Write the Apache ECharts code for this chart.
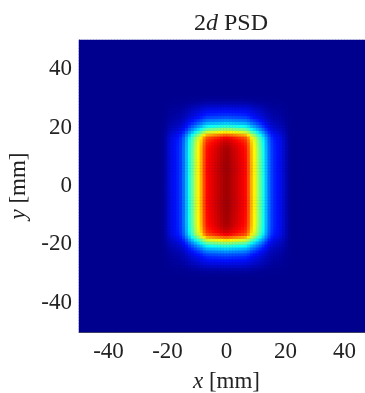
<!DOCTYPE html>
<html>
<head>
<meta charset="utf-8">
<script src="https://cdn.jsdelivr.net/npm/echarts@6/dist/echarts.min.js"></script>
<style>html,body{margin:0;padding:0;background:#fff}#c{width:365px;height:393px}</style>
</head>
<body>
<div id="c"></div>
<script>
// distance of cell centre from beam centre (mm) and read-off normalised PSD profile
const xDist = [0.5,1.5,2.5,3.5,4.5,5.5,6.5,7.5,8.5,9.5,10.5,11.5,12.5,13.5,14.5,15.5,16.5,17.5,18.5,19.5,20.5,21.5];
const xProfile = [0.965,0.95,0.935,0.92,0.905,0.89,0.87,0.8,0.7,0.63,0.55,0.47,0.39,0.3,0.22,0.17,0.14,0.12,0.1,0.07,0.035,0.01];
const yDist = [0.5,1.5,2.5,3.5,4.5,5.5,6.5,7.5,8.5,9.5,10.5,11.5,12.5,13.5,14.5,15.5,16.5,17.5,18.5,19.5,20.5,21.5,22.5,23.5,24.5,25.5,26.5,27.5,28.5,29.5,30.5];
const yProfile = [1.0,1.0,1.0,1.0,1.0,1.0,0.999,0.998,0.997,0.996,0.995,0.993,0.99,0.983,0.97,0.95,0.91,0.8,0.66,0.53,0.42,0.33,0.26,0.2,0.16,0.13,0.1,0.065,0.035,0.015,0.005];
const xTicks = [-40,-20,0,20,40];
const yTicks = [-40,-20,0,20,40];
const cellCentres = [];
for (let k = 0; k < 100; k++) cellCentres.push(-49.5 + k);
const jet = ['#00008F','#0010FF','#008CFF','#0AFFF5','#87FF78','#FFF900','#FF7B00','#FF0000','#800000'];

function look(dist, prof, v) {
  const a = Math.abs(v);
  const i = dist.indexOf(a);
  return i < 0 ? 0 : prof[i];
}
const data = [];
cellCentres.forEach((xc, i) => {
  cellCentres.forEach((yc, j) => {
    data.push([i, j, look(xDist, xProfile, xc) * look(yDist, yProfile, yc)]);
  });
});
const serif = 'Liberation Serif';
const txt = '#222';
const chart = echarts.init(document.getElementById('c'), null, {renderer: 'canvas'});
chart.setOption({
  animation: false,
  title: {
    text: '2{i|d} PSD',
    left: 226, top: 7, textAlign: 'center',
    textStyle: {fontFamily: serif, fontSize: 24, fontWeight: 'normal', color: txt,
      rich: {i: {fontFamily: serif, fontSize: 24, fontStyle: 'italic', color: txt}}}
  },
  grid: {left: 79, top: 40, width: 295, height: 292, outerBoundsMode: 'none', containLabel: false,
    show: true, backgroundColor: '#00008F', borderWidth: 0},
  visualMap: {show: false, min: 0, max: 1, dimension: 2, seriesIndex: 0, inRange: {color: jet}},
  xAxis: [
    {type: 'category', data: cellCentres.map(String), position: 'top', show: false, boundaryGap: true},
    {type: 'value', min: -50, max: 50, interval: 10, position: 'bottom',
     axisLine: {show: true, onZero: false, lineStyle: {color: '#555', width: 1}},
     axisTick: {show: false}, splitLine: {show: false},
     axisLabel: {margin: 8, fontFamily: serif, fontSize: 23, color: txt,
       formatter: v => xTicks.includes(v) ? String(v) : ''},
     name: '{i|x} [mm]', nameLocation: 'middle', nameGap: 38,
     nameTextStyle: {fontFamily: serif, fontSize: 23, color: txt,
       rich: {i: {fontFamily: serif, fontSize: 23, fontStyle: 'italic', color: txt}}}}
  ],
  yAxis: [
    {type: 'category', data: cellCentres.map(String), position: 'right', show: false, boundaryGap: true},
    {type: 'value', min: -50, max: 50, interval: 10, position: 'left',
     axisLine: {show: true, onZero: false, lineStyle: {color: '#555', width: 1}},
     axisTick: {show: false}, splitLine: {show: false},
     axisLabel: {margin: 7, fontFamily: serif, fontSize: 23, color: txt,
       formatter: v => yTicks.includes(v) ? String(v) : ''},
     name: '{i|y} [mm]', nameLocation: 'middle', nameGap: 45,
     nameTextStyle: {fontFamily: serif, fontSize: 23, color: txt,
       rich: {i: {fontFamily: serif, fontSize: 23, fontStyle: 'italic', color: txt}}}}
  ],
  series: [{
    type: 'heatmap', xAxisIndex: 0, yAxisIndex: 0, data: data,
    progressive: 0, emphasis: {disabled: true}
  }]
});
</script>
</body>
</html>
